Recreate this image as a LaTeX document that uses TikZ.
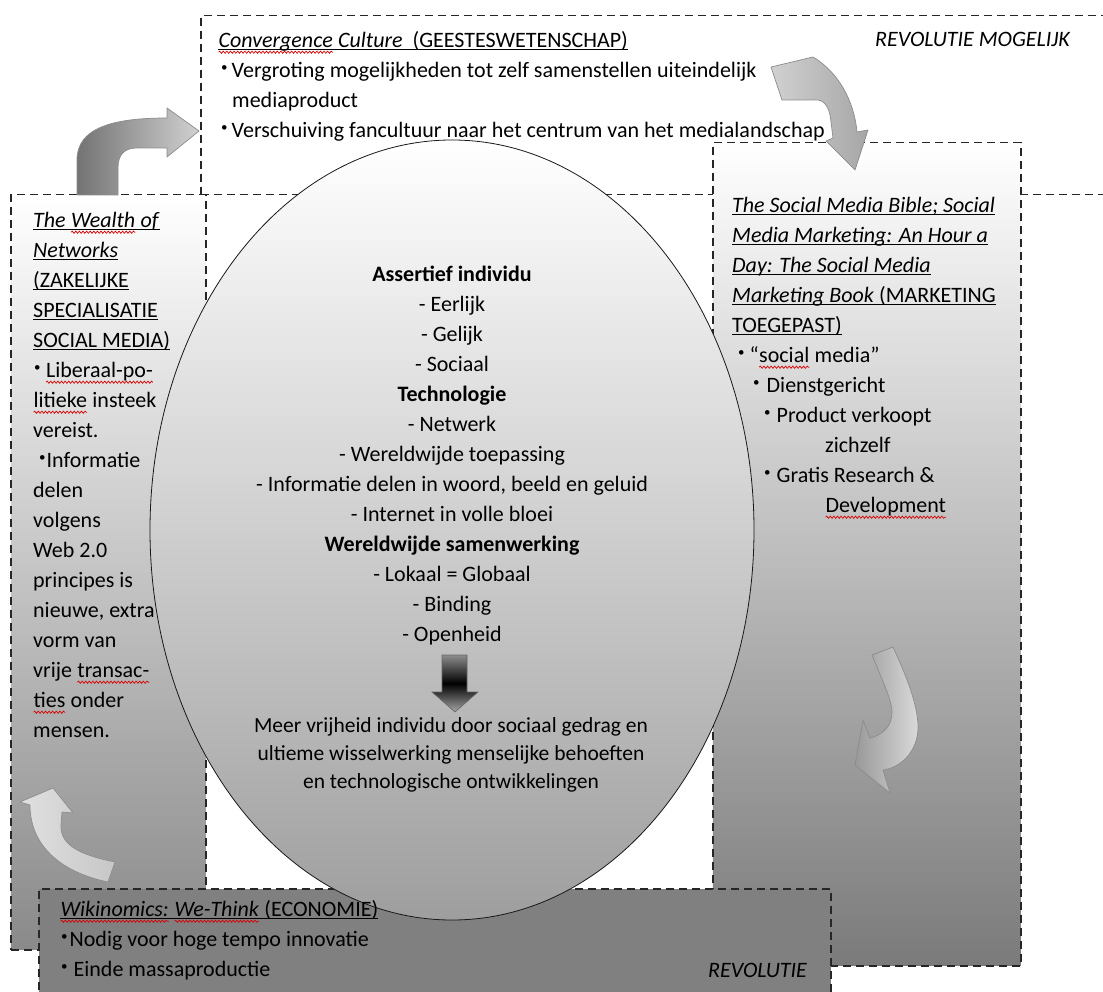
\documentclass[tikz,border=0pt]{standalone}
\usepackage{fontspec}
\setmainfont{Carlito}
\usetikzlibrary{positioning,shapes.geometric,decorations.pathmorphing}

\tikzset{
  dbox/.style={rectangle,draw=black!85,line width=1.5pt,dash pattern=on 8pt off 5pt,
    inner sep=0pt,anchor=north west},
  txt/.style={inner sep=0pt,align=left,font=\fontsize{22}{30}\selectfont,text=black},
  bentarrow/.style={draw=black!45,line width=0.7pt,line join=round},
  wavy/.style={red!85!black,line width=0.7pt,decorate,
    decoration={snake,amplitude=1.1pt,segment length=3.6pt}}
}

\newsavebox\ulnbox
\newcommand\uln[1]{\sbox\ulnbox{#1}\rlap{\rule[-3pt]{\wd\ulnbox}{1.1pt}}\usebox\ulnbox}
\newcommand\spellwave[1]{\tikz[baseline=(w.base)]{\node[inner sep=0pt,outer sep=0pt,anchor=base,align=center,font={}](w){#1};
  \draw[wavy]([yshift=-5pt]w.base west)--([yshift=-5pt]w.base east);}}
\newcommand\bulpt{\raisebox{6pt}{\fontsize{13}{13}\selectfont\textbullet}}

\begin{document}
\begin{tikzpicture}[x=1pt,y=-1pt]
  \path[use as bounding box,clip] (0,0) rectangle (1103,992);
  \fill[white] (0,0) rectangle (1103,992);

  % Kaders
  \node[dbox,fill=white,minimum width=930pt,minimum height=179pt] (culture) at (200,15) {};
  \node[dbox,top color=white,bottom color=black!46,minimum width=195pt,minimum height=755pt] (wealth) at (10,194) {};
  \node[dbox,top color=white,bottom color=black!52,minimum width=308pt,minimum height=823pt] (smbible) at (712,142) {};
  \node[dbox,fill=black!50,minimum width=792pt,minimum height=130pt] (wiki) at (38,888) {};

  % Ellips
  \node[ellipse,draw=black!90,line width=0.8pt,top color=white,bottom color=black!38,
    minimum width=604pt,minimum height=780pt] (core) at (452,530) {};

  % Pijlen
  \draw[bentarrow,left color=black!55,right color=black!18]
    (77,195) -- (77,160) .. controls (77,128) and (112,118) .. (167,118) -- (167,108)
    -- (199,131) -- (167,157) -- (167,148) -- (137,148)
    .. controls (124,148) and (118,155) .. (118,168) -- (118,195) -- cycle;
  \draw[bentarrow,left color=black!18,right color=black!35]
    (771,67) -- (813,57) .. controls (838,72) and (854,100) .. (857,132) -- (868,130)
    -- (855,170) -- (826,141) -- (833,138) -- (831,122)
    .. controls (830,110) and (826,101) .. (818,100) -- (782,100) -- cycle;
  \draw[bentarrow,left color=black!40,right color=black!15]
    (872,655) -- (893,647) .. controls (906,675) and (918,705) .. (918,727)
    .. controls (918,752) and (900,768) .. (883,770) -- (890,793) -- (855,765) -- (863,720)
    -- (870,738) .. controls (882,735) and (892,727) .. (892,712)
    .. controls (892,700) and (880,675) .. (872,655) -- cycle;
  \draw[bentarrow,left color=black!12,right color=black!22]
    (108,882) -- (115,862) .. controls (80,855) and (60,845) .. (61,825) -- (62,812)
    -- (73,813) -- (53,788) -- (20,802) -- (30,805)
    .. controls (30,845) and (60,872) .. (108,882) -- cycle;
  \draw[draw=black!60,line width=0.6pt,top color=black!45,bottom color=black!35,middle color=black]
    (442,655) -- (467,655) -- (467,692) -- (478,692) -- (455,712) -- (432,692) -- (442,692) -- cycle;

  % Teksten
  \node[txt,below right=11pt and 18pt of culture.north west] (culturetxt) {\strut\uln{\spellwave{\textit{Convergence}}\textit{ Culture}\ \ (GEESTESWETENSCHAP)}\\
    \hspace*{3pt}\bulpt\hspace{4pt}Vergroting mogelijkheden tot zelf samenstellen uiteindelijk\\
    \hspace*{14pt}mediaproduct\\
    \hspace*{3pt}\bulpt\hspace{4pt}Verschuiving fancultuur naar het centrum van het medialandschap};
  \node[txt,anchor=base west] (revmog) at (875,47) {\textit{REVOLUTIE MOGELIJK}};

  \node[txt,below right=12pt and 23pt of wealth.north west] (wealthtxt) {\strut\uln{\textit{The \spellwave{\textit{Wealth}} of}}\\
    \uln{\textit{Networks}}\\
    \uln{(ZAKELIJKE}\\
    \uln{SPECIALISATIE}\\
    \uln{SOCIAL MEDIA)}\\
    \hspace*{1pt}\bulpt\hspace{5pt}\spellwave{Liberaal-po-}\\
    \spellwave{litieke} insteek\\
    vereist.\\
    \hspace*{6pt}\bulpt\hspace{1pt}Informatie\\
    delen\\
    volgens\\
    Web 2.0\\
    principes is\\
    nieuwe, extra\\
    vorm van\\
    vrije \spellwave{transac-}\\
    \spellwave{ties} onder\\
    mensen.};

  \node[txt,below right=49pt and 20pt of smbible.north west] (smbibletxt) {\strut\uln{\textit{The Social Media Bible; Social}}\\
    \uln{\textit{Media Marketing: An Hour a}}\\
    \uln{\textit{Day: The Social Media}}\\
    \uln{\textit{Marketing Book} (MARKETING}\\
    \uln{TOEGEPAST)}\\
    \hspace*{6pt}\bulpt\hspace{5pt}“\spellwave{social} media”\\
    \hspace*{21pt}\bulpt\hspace{7pt}Dienstgericht\\
    \hspace*{32pt}\bulpt\hspace{6pt}Product verkoopt\\
    \hspace*{93pt}zichzelf\\
    \hspace*{32pt}\bulpt\hspace{6pt}Gratis Research \&\\
    \hspace*{93pt}\spellwave{Development}};

  \node[txt,align=center,below=121pt of core.north] (coretxt) {\strut\textbf{Assertief individu}\\
    - Eerlijk\\ - Gelijk\\ - Sociaal\\
    \textbf{Technologie}\\
    - Netwerk\\ - Wereldwijde toepassing\\
    - Informatie delen in woord, beeld en geluid\\
    - Internet in volle bloei\\
    \textbf{Wereldwijde samenwerking}\\
    - Lokaal = Globaal\\ - Binding\\ - Openheid};
  \node[txt,align=center,anchor=north,font=\fontsize{21.5}{28}\selectfont] (result) at (451,713)
    {\strut Meer vrijheid individu door sociaal gedrag en\\
    ultieme wisselwerking menselijke behoeften\\
    en technologische ontwikkelingen};

  \node[txt,below right=7pt and 22pt of wiki.north west] (wikitxt) {\strut\uln{\spellwave{\textit{Wikinomics:}}\textit{ }\spellwave{\textit{We-Think}} (ECONOMIE)}\\
    \hspace*{1pt}\bulpt\hspace{2pt}Nodig voor hoge tempo innovatie\\
    \hspace*{1pt}\bulpt\hspace{6pt}Einde massaproductie};
  \node[txt,anchor=base west] (rev) at (708,977) {\textit{REVOLUTIE}};
\end{tikzpicture}
\end{document}
